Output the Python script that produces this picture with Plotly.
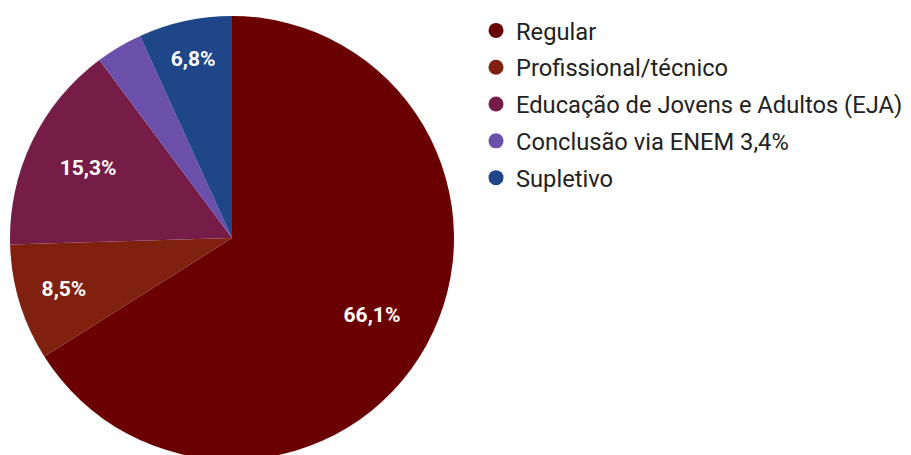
import plotly.graph_objects as go

categories = ["Regular", "Profissional/técnico", "Educação de Jovens e Adultos (EJA)",
              "Conclusão via ENEM 3,4%", "Supletivo"]
values = [66.1, 8.5, 15.3, 3.4, 6.8]
slice_labels = ["66,1%", "8,5%", "15,3%", "", "6,8%"]
colors = ["#6B0000", "#80200F", "#751C47", "#6A4FAB", "#1E4689"]

# the page body adds an 8px offset; figure sized/margined to compensate
W, H = 903, 452
ml, mt = 2, 8
plot_w, plot_h = W - ml, H - mt
dom_w = plot_h / plot_w
dom = dict(x=[0, dom_w], y=[0, 1])

fig = go.Figure()
# filled slices
fig.add_trace(go.Pie(
    labels=categories, values=values, textinfo="none",
    sort=False, direction="clockwise", rotation=0,
    marker=dict(colors=colors, line=dict(width=0)),
    domain=dom, showlegend=False, hoverinfo="label+percent",
))
# label layer (transparent ring so labels sit further out)
fig.add_trace(go.Pie(
    labels=categories, values=values, text=slice_labels, textinfo="text",
    sort=False, direction="clockwise", rotation=0, hole=0.44,
    marker=dict(colors=["rgba(0,0,0,0)"] * len(values), line=dict(width=0)),
    textposition="inside", insidetextorientation="horizontal",
    textfont=dict(family="Roboto", size=21, color="white", weight="bold"),
    domain=dom, showlegend=False, hoverinfo="skip",
))
for i, (c, col) in enumerate(zip(categories, colors)):
    fig.add_trace(go.Scatter(
        x=[None], y=[None], mode="markers", name=c, legendgroup=f"g{i}",
        marker=dict(symbol="circle", size=15, color=col),
    ))

fig.update_layout(
    width=W, height=H,
    margin=dict(l=ml, r=0, t=mt, b=0),
    paper_bgcolor="white", plot_bgcolor="white",
    xaxis=dict(visible=False), yaxis=dict(visible=False),
    font=dict(family="Roboto", color="#222222"),
    legend=dict(
        x=(468 - ml) / plot_w, y=1 + 7.5 / plot_h, xanchor="left", yanchor="top",
        font=dict(family="Roboto", size=23.7, color="#222222"),
        tracegroupgap=3, itemsizing="trace", bgcolor="rgba(0,0,0,0)",
    ),
)
fig.write_html("out.html")
